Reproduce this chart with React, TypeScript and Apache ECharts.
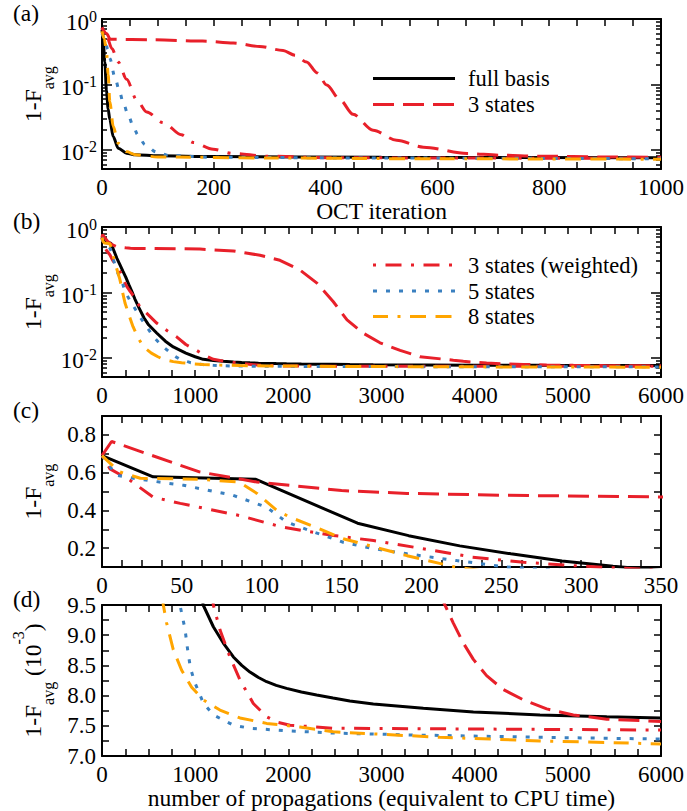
import React, { useEffect, useRef } from "react";
import * as echarts from "echarts";

// ---------- data ----------
// Panel (a): 1-F_avg versus OCT iteration
const iterFull = [[0,0.69],[2,0.5],[5,0.22],[8,0.08],[11,0.042],[14,0.029],[20,0.016],[29,0.0106],[44,0.0089],[60,0.0084],[100,0.0081],[200,0.0079],[500,0.0077],[1000,0.0076]];
const iter3 = [[0,0.74],[8,0.6],[15,0.49],[91,0.48],[180,0.46],[235,0.43],[282,0.38],[324,0.33],[345,0.28],[366,0.22],[385,0.15],[402,0.098],[426,0.058],[449,0.035],[485,0.02],[527,0.014],[575,0.011],[653,0.0088],[712,0.0083],[783,0.008],[900,0.0078],[1000,0.0077]];
const iter3w = [[0,0.74],[8,0.55],[18,0.35],[29,0.22],[44,0.12],[62,0.058],[80,0.038],[110,0.026],[142,0.017],[163,0.013],[199,0.0102],[234,0.0088],[295,0.008],[400,0.0076],[600,0.0075],[1000,0.0074]];
const iter5 = [[0,0.6],[5,0.5],[10,0.35],[14,0.25],[23,0.13],[31,0.08],[38,0.052],[47,0.034],[55,0.024],[64,0.017],[77,0.012],[97,0.0093],[120,0.0082],[200,0.0077],[500,0.0075],[1000,0.0073]];
const iter8 = [[0,0.65],[4,0.5],[8,0.32],[11,0.14],[14,0.055],[20,0.023],[29,0.0126],[44,0.0094],[60,0.0084],[100,0.0078],[300,0.0075],[600,0.0073],[1000,0.0072]];

// Panels (b), (c), (d): 1-F_avg versus number of propagations
const propFull = [[0,0.69],[32,0.578],[96,0.565],[160,0.332],[192,0.266],[224,0.212],[256,0.17],[288,0.132],[320,0.104],[352,0.08],[400,0.057],[450,0.041],[500,0.032],[587,0.024],[680,0.018],[765,0.0147],[900,0.0118],[1000,0.0104],[1086,0.0095],[1195,0.00914],[1302,0.00887],[1410,0.00864],[1500,0.0085],[1588,0.00839],[1680,0.0083],[1767,0.00823],[1870,0.00817],[1981,0.00812],[2140,0.00806],[2304,0.00801],[2480,0.00796],[2660,0.00791],[2912,0.00786],[3449,0.00779],[3986,0.00773],[4701,0.00768],[5418,0.00765],[6000,0.00763]];
const prop3 = [[0,0.69],[6,0.765],[61,0.604],[97,0.55],[150,0.505],[191,0.49],[253,0.48],[306,0.475],[350,0.471],[551,0.47],[1052,0.46],[1410,0.43],[1696,0.37],[1910,0.31],[2125,0.22],[2304,0.14],[2483,0.072],[2630,0.038],[2800,0.024],[2984,0.017],[3200,0.013],[3413,0.0104],[3681,0.0095],[3771,0.0092],[3878,0.00887],[3986,0.0086],[4128,0.00833],[4307,0.0081],[4522,0.00793],[4773,0.00778],[5059,0.00768],[5418,0.00761],[6000,0.00757]];
const prop3w = [[0,0.69],[5,0.62],[17.5,0.56],[32,0.47],[49,0.437],[86,0.373],[113,0.311],[145,0.267],[170,0.24],[201,0.197],[232,0.152],[264,0.125],[295,0.107],[322,0.095],[408,0.06],[500,0.045],[587,0.034],[700,0.026],[801,0.021],[900,0.016],[1016,0.013],[1100,0.011],[1195,0.0095],[1266,0.00909],[1373,0.00864],[1481,0.00826],[1624,0.00787],[1767,0.00765],[1880,0.00756],[2018,0.00751],[2482,0.00746],[3628,0.00745],[6000,0.00743]];
const prop5 = [[0,0.69],[9,0.586],[19.6,0.57],[36,0.55],[51,0.533],[82,0.48],[103,0.417],[115.6,0.338],[130,0.293],[151,0.231],[170,0.197],[191,0.17],[222,0.134],[253,0.1],[300,0.075],[350,0.058],[408,0.042],[480,0.03],[551,0.021],[650,0.015],[765,0.011],[837,0.0095],[891,0.0091],[920,0.00875],[950,0.00845],[998,0.00821],[1087,0.00788],[1195,0.00768],[1410,0.00751],[1588,0.00746],[1945,0.00742],[2482,0.00738],[3270,0.00735],[4701,0.00731],[6000,0.00728]];
const prop8 = [[0,0.69],[5,0.65],[11,0.604],[24,0.57],[61,0.565],[86,0.55],[97,0.49],[109.5,0.4],[117.7,0.364],[134,0.31],[151,0.25],[191,0.16],[212,0.118],[221,0.1],[247,0.069],[290,0.045],[333,0.03],[390,0.02],[444,0.0148],[530,0.0118],[600,0.0104],[658,0.0095],[694,0.0092],[765,0.00876],[855,0.00842],[962,0.00814],[1087,0.00793],[1266,0.00776],[1481,0.00763],[1767,0.00754],[2125,0.00748],[2482,0.0074],[3628,0.00731],[4701,0.00725],[6000,0.0072]];

const seriesNames = ["full basis", "3 states", "3 states (weighted)", "5 states", "8 states"];
const iterData = [iterFull, iter3, iter3w, iter5, iter8];
const propData = [propFull, prop3, prop3w, prop5, prop8];
const panelLabels = ["(a)", "(b)", "(c)", "(d)"];
const xTitleA = "OCT iteration";
const xTitleD = "number of propagations (equivalent to CPU time)";

// ---------- styles ----------
const FONT = "Liberation Serif, Times New Roman, serif";
const RED = "#e8202a";
const BLUE = "#3a80c0";
const ORANGE = "#ffa500";
const lineStyles = [
  { color: "#000000", dash: "solid" as any },
  { color: RED, dash: [21, 9] },
  { color: RED, dash: [3, 9.5, 16, 9.5] },
  { color: BLUE, dash: [4, 9] },
  { color: ORANGE, dash: [15, 9.5, 3, 9.5, 16, 9.5, 16, 9.5] },
];

const grids = [
  { left: 102, top: 19, width: 559, height: 150 },
  { left: 102, top: 227, width: 559, height: 150 },
  { left: 102, top: 416, width: 559, height: 151 },
  { left: 102, top: 605, width: 559, height: 151 },
];

const TICK = 23;
const NAME = 23.5;
const LEGEND_FONT = 22.5;

function axisBase(extra: any) {
  return {
    axisLine: { show: true, onZero: false, lineStyle: { color: "#000", width: 2 } },
    axisTick: { show: true, inside: true, length: 7, lineStyle: { color: "#000", width: 1.5 } },
    minorTick: { show: true, splitNumber: 4, length: 7, lineStyle: { color: "#000", width: 1.5 } },
    splitLine: { show: false },
    minorSplitLine: { show: false },
    nameMoveOverlap: false,
    ...extra,
  };
}

function xPair(g: number, min: number, max: number, interval: number, name?: string) {
  const common = { type: "value", gridIndex: g, min, max, interval };
  return [
    axisBase({
      ...common,
      position: "bottom",
      axisLabel: { show: true, fontFamily: FONT, fontSize: TICK, lineHeight: 20, color: "#000", margin: 8, formatter: (v: number) => String(v) },
      name: name || "",
      nameLocation: "middle",
      nameGap: 32,
      nameTextStyle: { fontFamily: FONT, fontSize: NAME, lineHeight: 20, color: "#000" },
    }),
    axisBase({ ...common, position: "top", axisLabel: { show: false } }),
  ];
}

const yNameRich = {
  m: { fontFamily: FONT, fontSize: NAME, color: "#000", lineHeight: 46 },
  s: { fontFamily: FONT, fontSize: 16, color: "#000", lineHeight: 16, verticalAlign: "bottom" },
  p: { fontFamily: FONT, fontSize: 16, color: "#000", lineHeight: 31, verticalAlign: "top" },
};

function yLogPair(g: number, min: number) {
  const common = { type: "log", logBase: 10, gridIndex: g, min, max: 1 };
  const extra = {
    axisTick: { show: true, inside: true, length: 10, lineStyle: { color: "#000", width: 1.5 } },
    minorTick: { show: true, splitNumber: 9, length: 5, lineStyle: { color: "#000", width: 1.5 } },
  };
  return [
    axisBase({
      ...common,
      ...extra,
      position: "left",
      axisLabel: {
        show: true,
        showMinLabel: false,
        margin: 5,
        formatter: (v: number) => `{b|10}{e|${Math.round(Math.log10(v))}}`,
        rich: {
          b: { fontFamily: FONT, fontSize: TICK, color: "#000", lineHeight: 22, padding: [6, 0, 0, 0] },
          e: { fontFamily: FONT, fontSize: 16, color: "#000", lineHeight: 16, verticalAlign: "top" },
        },
      },
      name: "{m|1-F}{s|avg}",
      nameLocation: "middle",
      nameGap: 46,
      nameTextStyle: { rich: yNameRich },
    }),
    axisBase({ ...common, ...extra, position: "right", axisLabel: { show: false } }),
  ];
}

function yLinPair(g: number, min: number, max: number, interval: number, minorSplit: number, fmt: (v: number) => string, name: string) {
  const common = { type: "value", gridIndex: g, min, max, interval };
  const extra = {
    minorTick: { show: minorSplit > 1, splitNumber: minorSplit, length: 7, lineStyle: { color: "#000", width: 1.5 } },
  };
  return [
    axisBase({
      ...common,
      ...extra,
      position: "left",
      axisLabel: { show: true, fontFamily: FONT, fontSize: TICK, color: "#000", margin: 6, formatter: fmt },
      name,
      nameLocation: "middle",
      nameGap: 46,
      nameTextStyle: { rich: yNameRich },
    }),
    axisBase({ ...common, ...extra, position: "right", axisLabel: { show: false } }),
  ];
}

function mkSeries(g: number, datasets: number[][][], scale: number, smooth: number) {
  return datasets.map((d, i) => ({
    type: "line",
    name: seriesNames[i],
    data: d.map((p) => [p[0], p[1] * scale]),
    xAxisIndex: 2 * g,
    yAxisIndex: 2 * g,
    symbol: "none",
    showSymbol: false,
    smooth,
    smoothMonotone: "x",
    clip: true,
    silent: true,
    z: 2 + i,
    lineStyle: { color: lineStyles[i].color, width: 3, type: lineStyles[i].dash },
    itemStyle: { color: lineStyles[i].color },
    emphasis: { disabled: true },
  }));
}

function legendGraphics(items: number[], ys: number[]) {
  const out: any[] = [];
  items.forEach((si, k) => {
    const st = lineStyles[si];
    out.push({
      type: "line",
      shape: { x1: 373, y1: ys[k], x2: 455, y2: ys[k] },
      style: { stroke: st.color, lineWidth: 3, lineDash: Array.isArray(st.dash) ? st.dash : null },
      silent: true,
    });
    out.push({
      type: "text",
      x: 468,
      y: ys[k],
      style: { text: seriesNames[si], fontFamily: FONT, fontSize: LEGEND_FONT, lineHeight: 20, fill: "#000", align: "left", verticalAlign: "middle" },
      silent: true,
    });
  });
  return out;
}

export default function App() {
  const ref = useRef<HTMLDivElement>(null);
  useEffect(() => {
    if (!ref.current) return;
    const chart = echarts.init(ref.current, undefined, { renderer: "svg" });
    const labelYs = [12.5, 220.5, 409.5, 598.5];
    const option: any = {
      animation: false,
      backgroundColor: "#ffffff",
      grid: grids.map((g) => ({ ...g, containLabel: false, outerBoundsMode: "none" })),
      xAxis: [
        ...xPair(0, 0, 1000, 200, xTitleA),
        ...xPair(1, 0, 6000, 1000),
        ...xPair(2, 0, 350, 50),
        ...xPair(3, 0, 6000, 1000, xTitleD),
      ],
      yAxis: [
        ...yLogPair(0, 0.0051),
        ...yLogPair(1, 0.0051),
        ...yLinPair(2, 0.1, 0.9, 0.1, 1, (v: number) => (Math.round(v * 10) % 2 === 0 ? v.toFixed(1) : ""), "{m|1-F}{s|avg}"),
        ...yLinPair(3, 7, 9.5, 0.5, 2, (v: number) => v.toFixed(1), "{m|1-F}{s|avg}{m| (10}{p|-3}{m|)}"),
      ],
      series: [
        ...mkSeries(0, iterData, 1, 0.3),
        ...mkSeries(1, propData, 1, 0),
        ...mkSeries(2, propData, 1, 0),
        ...mkSeries(3, propData, 1000, 0),
      ],
      graphic: [
        ...panelLabels.map((t, i) => ({
          type: "text",
          x: 13,
          y: labelYs[i],
          style: { text: t, fontFamily: FONT, fontSize: NAME, lineHeight: 20, fill: "#000", align: "left", verticalAlign: "middle" },
          silent: true,
        })),
        ...legendGraphics([0, 1], [78.5, 104.5]),
        ...legendGraphics([2, 3, 4], [265, 291, 316.5]),
      ],
    };
    chart.setOption(option);
    return () => chart.dispose();
  }, []);
  return <div ref={ref} style={{ position: "fixed", left: 0, top: 0, width: 687, height: 811 }} />;
}
